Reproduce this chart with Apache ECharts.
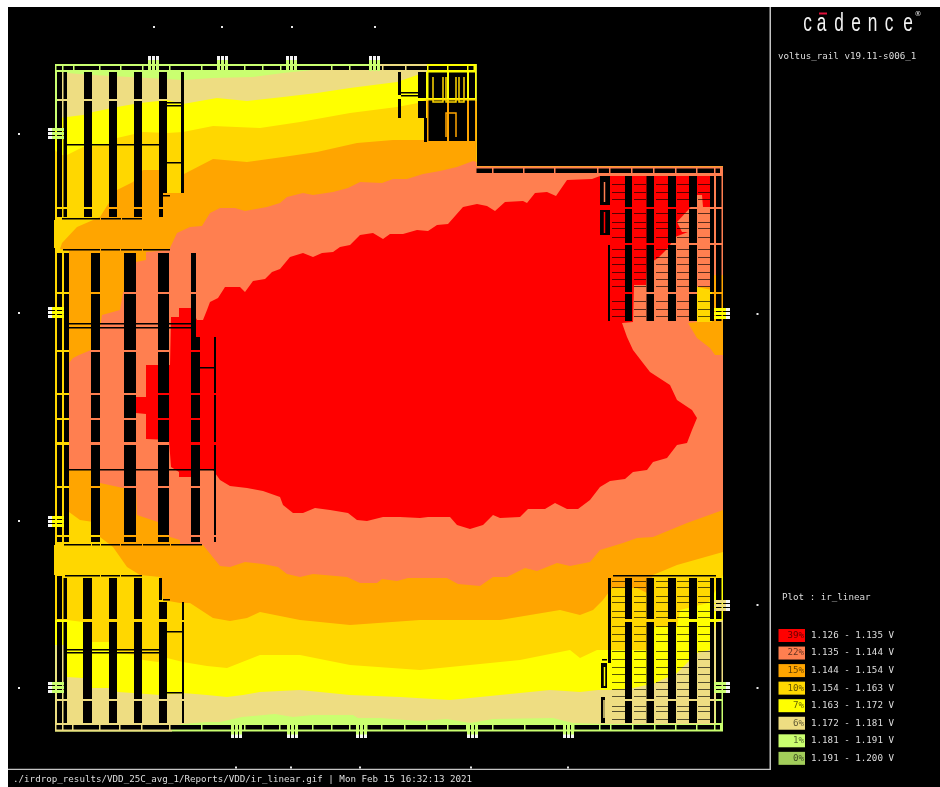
<!DOCTYPE html>
<html lang="en">
  <head>
    <meta charset="UTF-8" />
    <title>ir_linear</title>
    <style>
      html, body { margin: 0; padding: 0; background: #fff; }
      main { width: 940px; height: 787px; }
    </style>
  </head>
  <body>
    <main></main>
    <script src="https://cdn.jsdelivr.net/npm/echarts@6/dist/echarts.min.js"></script>
    <script>
      // legend
      const bandPct = ["39%", "22%", "15%", "10%", "7%", "6%", "1%", "0%"];
      const bandRange = [
        "1.126 - 1.135 V", "1.135 - 1.144 V", "1.144 - 1.154 V", "1.154 - 1.163 V",
        "1.163 - 1.172 V", "1.172 - 1.181 V", "1.181 - 1.191 V", "1.191 - 1.200 V",
      ];
      const bandColor = ["#ff0000", "#ff7f50", "#ffa500", "#ffd700", "#ffff00", "#eedd82", "#caff70", "#a2cd5a"];
      const RED = 0, CORAL = 1, ORANGE = 2, GOLD = 3, YELLOW = 4, TAN = 5, GREEN = 6;

      // die outline, everything below is in picture pixels on the hidden x/y axes
      const footprint = [[55, 64], [476.5, 64], [476.5, 166.5], [723, 166.5], [723, 731.5], [55, 731.5]];
      const leftTabs = [
        [[54, 220], [58, 220], [58, 248], [54, 248]],
        [[54, 545], [58, 545], [58, 575], [54, 575]],
      ];
      const sideTop = [[476.5, 166.5], [723, 166.5]];

      // iso-voltage contours
      const tanTop = [[58, 128], [58, 72], [67, 73], [93, 75], [167, 79], [183, 80], [213, 78], [253, 77], [283, 73], [313, 70], [380, 69], [380, 64], [476.5, 64]];
      const tanBottom = [[55, 731.5], [172, 731.5], [172, 726], [183, 724], [207, 722], [220, 722], [242, 717], [275, 714], [293, 717], [313, 715], [353, 715], [358, 718], [380, 718], [420, 721], [447, 719], [470, 723], [493, 719], [553, 718], [573, 723], [600, 724], [715, 724], [716, 693], [723, 693]];
      const yellowTop = [[55, 128], [59, 128], [59, 118], [67, 117], [83, 115], [93, 112], [117, 107], [140, 103], [167, 100], [183, 104], [217, 98], [247, 101], [283, 97], [317, 93], [350, 88], [397, 82], [417, 75], [427, 72], [427, 64], [476.5, 64]];
      const yellowBottom = [[55, 645], [65, 645], [67, 677], [83, 678], [92, 688], [110, 688], [118, 692], [133, 693], [160, 695], [183, 693], [207, 695], [227, 697], [243, 695], [260, 692], [300, 690], [350, 695], [400, 697], [450, 700], [500, 695], [550, 690], [580, 692], [598, 690], [612, 690], [633, 688], [655, 683], [677, 673], [697, 653], [710, 650], [716, 622], [723, 620]];
      const goldTop = [[55, 150], [60, 155], [67, 155], [83, 147], [110, 145], [117, 138], [143, 132], [167, 133], [183, 132], [213, 126], [260, 128], [300, 122], [350, 113], [397, 107], [418, 103], [427, 99], [476.5, 99]];
      const goldBottom = [[55, 620], [67, 620], [83, 622], [92, 642], [109, 642], [120, 653], [135, 655], [143, 660], [158, 662], [167, 658], [183, 662], [207, 666], [227, 668], [260, 655], [300, 655], [350, 665], [420, 670], [470, 665], [520, 660], [570, 650], [580, 658], [597, 650], [612, 650], [647, 650], [655, 627], [677, 627], [680, 610], [708, 603], [716, 590], [723, 575]];
      const orangeTop = [[69, 512], [69, 251], [60, 249], [62, 243], [77, 227], [100, 217], [117, 190], [133, 182], [143, 170], [160, 170], [162, 193], [183, 193], [184, 174], [213, 159], [247, 162], [283, 157], [317, 152], [357, 143], [393, 140], [427, 140], [427, 101], [476.5, 101]];
      const orangeBottom = [[80, 520], [100, 523], [100, 537], [113, 547], [120, 557], [127, 567], [140, 575], [160, 577], [163, 600], [180, 603], [190, 603], [213, 618], [230, 621], [247, 618], [260, 612], [300, 620], [350, 625], [420, 620], [500, 620], [560, 610], [580, 615], [593, 610], [603, 600], [612, 588], [637, 588], [647, 593], [653, 575], [677, 565], [723, 552]];
      const coralOutline = [
        [170, 250], [170, 248], [177, 233], [190, 227], [202, 226], [210, 213], [220, 208], [235, 208], [245, 211], [267, 207], [280, 203], [287, 197], [303, 193], [313, 195], [333, 192], [348, 188], [360, 182], [382, 183], [393, 179], [407, 179], [423, 174], [440, 171], [457, 167], [473, 161], [476.5, 162], [476.5, 166.5],
        [723, 166.5], [723, 275], [712, 275], [712, 287], [697, 287], [697, 322], [688, 323], [697, 338], [710, 348], [715, 355], [723, 355], [723, 510],
        [687, 523], [653, 537], [637, 538], [623, 543], [600, 550], [590, 562], [570, 566], [557, 563], [537, 571], [525, 568], [507, 577], [493, 577], [480, 586], [458, 584], [447, 578], [408, 578], [397, 581], [382, 579], [377, 583], [360, 583], [347, 577], [313, 574], [300, 577], [287, 574], [278, 567], [263, 564], [245, 562], [230, 567], [220, 566], [203, 545],
        [180, 544], [180, 540], [170, 537], [158, 522], [137, 515], [136, 488], [123, 488], [100, 483], [100, 470], [69, 470], [69, 363], [73, 358], [79, 355], [91, 350], [100, 328], [102, 315], [120, 310], [123, 293], [136, 262], [146, 260], [146, 252],
      ];
      const goldPatch = [[697, 287], [712, 290], [712, 322], [697, 322]];
      const redOutline = [
        [136, 397], [146, 397], [146, 365], [170, 365], [171, 317], [179, 317], [179, 308], [191, 308], [197, 320], [203, 320], [207, 310], [210, 302], [218, 298], [225, 287], [240, 287], [245, 292], [253, 281], [265, 279], [272, 272], [280, 269], [290, 257], [303, 253], [313, 257], [322, 253], [333, 252], [340, 247], [350, 245], [360, 235], [373, 233], [383, 239], [390, 234], [403, 234], [417, 230], [428, 231], [437, 225], [448, 224], [463, 207], [477, 204], [487, 206], [495, 211], [505, 202], [523, 201], [527, 203], [535, 193], [547, 192], [556, 196], [567, 180], [592, 179], [600, 176],
        [710, 176], [710, 207], [703, 207], [702, 195], [697, 195], [690, 208], [677, 222], [682, 232], [688, 232], [675, 237], [668, 248], [658, 258], [647, 265], [646, 285], [634, 285], [633, 322], [622, 323], [627, 337], [633, 350], [643, 363], [650, 372], [670, 385], [677, 400], [692, 410], [697, 418], [692, 430], [687, 443], [677, 445], [667, 458], [653, 462], [647, 470], [633, 472], [625, 479], [610, 481], [600, 487], [590, 500], [578, 509], [567, 509], [555, 503], [545, 509], [528, 509], [520, 517], [500, 518], [493, 515], [483, 525], [470, 529], [457, 525], [450, 517], [428, 517], [420, 518], [400, 517], [383, 517], [367, 521], [357, 520], [348, 513], [330, 510], [315, 508], [303, 513], [293, 513], [283, 505], [280, 497], [263, 491], [247, 488], [230, 486], [220, 480], [213, 470], [200, 470], [191, 477], [179, 477], [179, 472], [171, 467], [169, 440], [146, 439], [146, 414], [136, 413],
      ];

      // black gaps between the power rails, the band colour shows through as the rail
      const topRowX = [56.5, 63.5, 74.5, 100.5, 121.5, 143.5, 170.5, 202.5, 245.5, 263.5, 281.5, 332.5, 350.5, 383.5, 406.5, 428.5, 448.5, 468.5, 475];
      const bottomRowX = [56.5, 63.5, 73.5, 100.5, 120.5, 142.5, 170.5, 202.5, 245.5, 263.5, 280.5, 297.5, 313.5, 332.5, 350.5, 367.5, 382.5, 405.5, 427.5, 448.5, 467.5, 477.5, 493.5, 525.5, 555.5, 574.5, 600.5, 611.5, 633.5, 655.5, 676.5, 697.5, 715.5, 721.5];
      const rightRowX = [476.5, 493.5, 524.5, 555.5, 598.5, 610.5, 632.5, 654.5, 676.5, 697.5, 715.5, 721.5];
      const topLeftX = [[57, 62], [63.5, 67], [84, 92], [109, 117], [134, 142]];
      const topLeftY = [[72, 99], [101, 207], [209, 217]];
      const midLeftX = [[57, 62], [64, 69], [91, 100], [124, 136], [158, 169]];
      const midLeftY = [[253, 292], [294, 350], [352, 393], [395, 418], [420, 442], [445, 486], [488, 535], [537, 542]];
      const lowLeftX = [[57, 62], [63.5, 67], [83, 92], [109, 117], [134, 142], [159, 167]];
      const lowLeftY = [[602, 619], [622, 699], [701, 723]];
      const rightX = [[625, 632], [646.5, 654], [668, 676], [689, 697], [710, 714], [716, 721.5]];
      const rightTopY = [[176, 207], [209, 243], [245, 292], [294, 321]];
      const rightLowY = [[578, 619], [622, 699], [701, 723]];
      const extraBlocks = [
        [159, 167, 72, 99], [159, 167, 101, 193], [159, 163, 193, 207], [159, 163, 209, 217], [181, 184, 72, 193],
        [191, 196, 253, 292], [191, 196, 294, 337], [191, 200, 337, 350], [191, 200, 352, 393], [191, 200, 395, 418], [191, 200, 420, 442], [191, 200, 445, 486], [191, 200, 488, 535], [191, 200, 537, 542],
        [214, 216, 337, 393], [214, 216, 395, 442], [214, 216, 445, 535], [214, 216, 537, 542],
        [57, 62, 576, 602], [63.5, 67, 578, 602], [83, 92, 578, 602], [109, 117, 578, 602], [134, 142, 578, 602], [159, 162, 578, 600], [182, 184, 602, 620], [182, 184, 622, 699], [182, 184, 701, 723],
        [398, 401, 72, 95], [398, 401, 99, 118], [418, 426, 72, 98], [418, 426, 101, 118], [424, 427, 118, 142],
        [428.5, 447, 72.5, 98], [449, 467, 72.5, 98], [469, 475, 72.5, 98], [428.5, 447, 100.5, 141], [449, 467, 100.5, 141], [469, 475, 100.5, 141],
        [600, 610, 176, 205], [600, 610, 210, 235], [608, 610, 245, 321], [608, 611, 578, 663], [601, 607, 663, 688], [601, 605, 697, 723],
      ];
      // x from, x to, y of the thin dark cross lines
      const thinLines = [
        [67, 84, 144], [92, 109, 144], [117, 134, 144], [142, 159, 144], [167, 181, 102], [167, 181, 105], [167, 181, 162], [163, 170, 195],
        [62, 100, 218], [101, 121, 218], [122, 142, 218], [63, 100, 249], [101, 120, 249], [121, 142, 249], [143, 170, 249],
        [69, 91, 323], [69, 91, 327], [100, 124, 323], [100, 124, 327], [136, 158, 323], [136, 158, 327], [169, 191, 323], [169, 191, 327], [200, 214, 367],
        [69, 91, 469], [100, 124, 469], [136, 158, 469], [169, 191, 469], [200, 214, 469],
        [64, 91, 544], [92, 100, 544], [101, 120, 544], [121, 142, 544], [143, 170, 544], [171, 202, 544],
        [65, 100, 575], [101, 120, 575], [121, 142, 575],
        [67, 83, 649], [67, 83, 652], [92, 109, 649], [92, 109, 652], [117, 134, 649], [117, 134, 652], [142, 159, 649], [142, 159, 652],
        [167, 182, 631], [167, 182, 692], [163, 170, 599], [401, 418, 92], [401, 418, 95], [602, 607, 659], [613, 716, 575],
      ];
      const combX = [[612, 625], [634, 646], [656, 668], [677, 689], [698, 710]];
      const combTopY = [184, 192, 199, 213, 222, 228, 237, 249, 257, 264, 272, 279, 286, 301, 309, 316];
      const combLowY = [581, 587, 596, 602, 611, 617, 626, 634, 641, 651, 659, 667, 674, 682, 689, 696, 706, 711, 719];

      // small metal traces in the macros: band, points
      const traces = [
        [GOLD, [[433, 77], [433, 102], [443, 102], [443, 77]]],
        [GOLD, [[446, 77], [446, 102], [456, 102], [456, 77]]],
        [GOLD, [[459, 77], [459, 102], [464, 102], [464, 77]]],
        [ORANGE, [[446, 137], [446, 113], [456, 113], [456, 137]]],
        [CORAL, [[604.5, 182], [604.5, 202]]],
        [RED, [[604.5, 212], [604.5, 233]]],
        [YELLOW, [[604.5, 667], [604.5, 686]]],
        [TAN, [[604, 700], [604, 718]]],
      ];

      // bond pads: position along the edge and the band of each
      const padTop = [[148, GREEN], [217, GREEN], [286, GREEN], [369, GREEN]];
      const padBottom = [[231, GREEN], [287, GREEN], [356, GREEN], [467, GREEN], [563, GREEN]];
      const padLeft = [[128, GREEN], [307, YELLOW], [516, YELLOW], [682, GREEN]];
      const padRight = [[308, YELLOW], [600, TAN], [682, GREEN]];
      const dotsTop = [154, 222, 292, 375];
      const dotsBottom = [236, 291, 360, 471, 568];
      const dotsLeft = [134, 313, 521, 688];
      const dotsRight = [314, 605, 688];

      const logoLetters = ["c", "a", "d", "e", "n", "c", "e"];
      const logoX = [807.5, 821.5, 839, 856, 872.5, 889, 908];

      function poly(top, right, bottom) {
        return top.concat(right, bottom.slice().reverse());
      }
      const bands = [
        [GREEN, footprint],
        [TAN, poly(tanTop, sideTop, tanBottom)],
        [YELLOW, poly(yellowTop, sideTop, yellowBottom)],
        [GOLD, poly(goldTop, sideTop, goldBottom)],
        [GOLD, leftTabs[0]],
        [GOLD, leftTabs[1]],
        [ORANGE, poly(orangeTop, sideTop, orangeBottom)],
        [CORAL, coralOutline],
        [GOLD, goldPatch],
        [RED, redOutline],
      ];

      const blocks = [];
      function cross(xs, ys) {
        xs.forEach((x) => ys.forEach((y) => blocks.push([x[0], x[1], y[0], y[1]])));
      }
      function row(xs, y0, y1) {
        for (let i = 0; i < xs.length - 1; i++) blocks.push([xs[i], xs[i + 1] - 1.5, y0, y1]);
      }
      row(topRowX, 66, 70);
      row(bottomRowX, 725, 729.5);
      row(rightRowX, 168.5, 173);
      cross(topLeftX, topLeftY);
      cross(midLeftX, midLeftY);
      cross(lowLeftX, lowLeftY);
      cross(rightX, rightTopY);
      cross(rightX, rightLowY);
      extraBlocks.forEach((b) => blocks.push(b));
      thinLines.forEach((l) => blocks.push([l[0], l[1], l[2], l[2] + 1.5]));

      const combs = [];
      combX.forEach((x) => {
        combTopY.forEach((y) => combs.push([x[0], x[1], y, y + 1]));
        combLowY.forEach((y) => combs.push([x[0], x[1], y, y + 1]));
      });

      // pads split in three bars, white at the far end
      const padRects = [];
      function addPad(list, horizontal, from, to, tipFrom, tipTo) {
        list.forEach((p) => {
          [0, 4, 8].forEach((o) => {
            const a = p[0] + o, b = p[0] + o + 3;
            if (horizontal) {
              padRects.push([from, to, a, b, bandColor[p[1]]]);
              padRects.push([tipFrom, tipTo, a, b, "#f4f4f4"]);
            } else {
              padRects.push([a, b, from, to, bandColor[p[1]]]);
              padRects.push([a, b, tipFrom, tipTo, "#f4f4f4"]);
            }
          });
        });
      }
      addPad(padTop, false, 56, 71, 56, 60);
      addPad(padBottom, false, 724, 738, 734.5, 738);
      addPad(padLeft, true, 48, 64, 48, 52);
      addPad(padRight, true, 714, 730, 726, 730);

      const dots = [];
      dotsTop.forEach((x) => dots.push([x, 27]));
      dotsBottom.forEach((x) => dots.push([x, 767.5]));
      dotsLeft.forEach((y) => dots.push([19, y]));
      dotsRight.forEach((y) => dots.push([757.5, y]));

      function rectOf(api, r, fill, opacity) {
        const a = api.coord([r[0], r[2]]);
        const b = api.coord([r[1], r[3]]);
        return {
          type: "rect",
          shape: { x: a[0], y: a[1], width: b[0] - a[0], height: b[1] - a[1] },
          style: { fill: fill, opacity: opacity === undefined ? 1 : opacity },
        };
      }
      function layer(items, draw) {
        return {
          type: "custom",
          coordinateSystem: "cartesian2d",
          silent: true,
          clip: false,
          animation: false,
          data: items.map(() => [0, 0]),
          renderItem: (params, api) => draw(items[params.dataIndex], api, params.dataIndex),
        };
      }
      function label(api, text, x, y, fill, align, font) {
        const p = api.coord([x, y]);
        return {
          type: "text",
          style: { text: text, x: p[0], y: p[1], fill: fill, align: align, verticalAlign: "middle", font: font },
        };
      }

      const mono = '9.2px "DejaVu Sans Mono", monospace';
      const texts = [
        ["voltus_rail v19.11-s006_1", 778, 57],
        ["Plot : ir_linear", 782, 598],
        ["./irdrop_results/VDD_25C_avg_1/Reports/VDD/ir_linear.gif | Mon Feb 15 16:32:13 2021", 13, 779.5],
      ];

      const chart = echarts.init(document.querySelector("main"), null, { renderer: "canvas" });
      chart.setOption({
        animation: false,
        backgroundColor: "#fff",
        grid: { left: 0, right: 0, top: 0, bottom: 0 },
        xAxis: { type: "value", min: 0, max: 940, show: false },
        yAxis: { type: "value", min: 0, max: 787, inverse: true, show: false },
        series: [
          // screen
          layer([[8, 940, 7, 787, "#000"], [769.5, 771, 7, 769, "#c4c4c4"], [8, 771, 768.8, 770, "#c4c4c4"]], (r, api) => rectOf(api, r, r[4])),
          // contours
          layer(bands, (b, api) => ({
            type: "polygon",
            shape: { points: b[1].map((p) => api.coord(p)) },
            style: { fill: bandColor[b[0]] },
          })),
          layer(blocks, (r, api) => rectOf(api, r, "#000")),
          layer(combs, (r, api) => rectOf(api, r, "#000", 0.65)),
          layer(traces, (t, api) => ({
            type: "polyline",
            shape: { points: t[1].map((p) => api.coord(p)) },
            style: { stroke: bandColor[t[0]], fill: null, lineWidth: 1.5 },
          })),
          layer(padRects, (r, api) => rectOf(api, r, r[4])),
          layer(dots, (d, api) => rectOf(api, [d[0] - 1, d[0] + 1, d[1] - 1, d[1] + 1], "#e8e8e8")),
          // legend
          layer(bandPct, (pct, api, i) => {
            const y = 635.5 + i * 17.55;
            return {
              type: "group",
              children: [
                rectOf(api, [778.5, 805, y - 6.5, y + 6.5], bandColor[i]),
                label(api, pct, 804, y, "rgba(0,0,0,0.62)", "right", mono),
                label(api, bandRange[i], 811, y, "#dedede", "left", mono),
              ],
            };
          }),
          layer(texts, (t, api) => label(api, t[0], t[1], t[2], "#dedede", "left", mono)),
          // logo, squeezed because the real one is a narrow face
          layer(logoLetters, (c, api, i) => {
            const p = api.coord([logoX[i], 24]);
            return {
              type: "text",
              x: p[0],
              y: p[1],
              scaleX: 0.72,
              scaleY: 1.1,
              style: { text: c, x: 0, y: 0, fill: "#f2f2f2", align: "center", verticalAlign: "middle", font: '24px "Liberation Sans", sans-serif' },
            };
          }),
          layer([[819, 827, 12.5, 14.5]], (r, api) => rectOf(api, r, "#e0103a")),
          layer(["®"], (c, api) => label(api, c, 918, 14, "#e8e8e8", "center", '7px "DejaVu Sans", sans-serif')),
        ],
      });
    </script>
  </body>
</html>
